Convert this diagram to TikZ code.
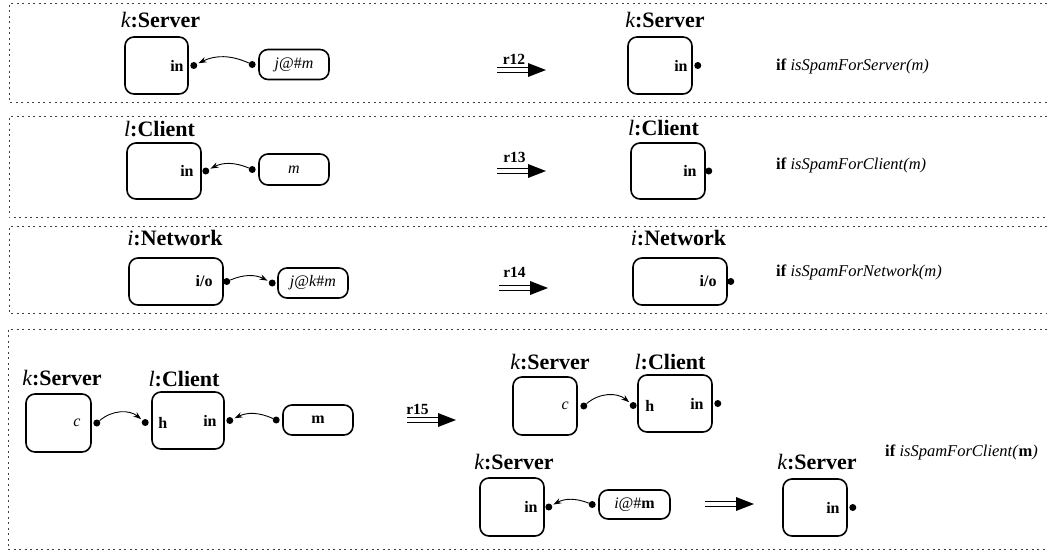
\documentclass[tikz,border=0pt]{standalone}
\usepackage{fontspec}
\setmainfont{Liberation Serif}
\usetikzlibrary{arrows.meta}
\tikzset{
  frame/.style={draw=black!75, line width=0.8pt, dash pattern=on 2pt off 3.5pt},
  comp/.style={draw, line width=1.6pt, rounded corners=9pt, inner sep=0pt},
  msg/.style={draw, line width=1.6pt, rounded corners=9pt, minimum width=70pt, minimum height=30pt, inner sep=0pt, font=\fontsize{16}{16}\selectfont},
  title/.style={font=\fontsize{22}{22}\selectfont\bfseries, inner sep=0pt},
  plabel/.style={font=\fontsize{16}{16}\selectfont\bfseries, inner sep=0pt},
  rlabel/.style={font=\fontsize{15.5}{15.5}\selectfont\bfseries, inner sep=0pt},
  cond/.style={font=\fontsize{16.5}{16.5}\selectfont, inner sep=0pt, anchor=west},
  port/.style={circle, fill=black, minimum size=7pt, inner sep=0pt},
  conn/.style={line width=0.9pt, -{Stealth[length=8pt,width=5.5pt]}, shorten >=1.5pt},
  implies/.pic={
    \draw[line width=1.6pt] (0,-2.6) -- (33,-2.6) (0,2.6) -- (33,2.6);
    \fill (31,-7) -- (49,0) -- (31,7) -- cycle;
  }
}
\newcommand{\ivar}[1]{{\mdseries\itshape #1}}
\begin{document}
\begin{tikzpicture}[x=1pt,y=-1pt]
\useasboundingbox (0,0) rectangle (1047,552);
% frames
\draw[frame] (1047,3) -| (9,102) -- (1047,102);
\draw[frame] (1047,116) -| (9,217) -- (1047,217);
\draw[frame] (1047,226) -| (9,313) -- (1047,313);
\draw[frame] (1047,329) -| (8,549) -- (1047,549);

% ---------- Row 1 (r12)
\node[title] (t1) at (160.5,20) {\ivar{k}:Server};
\node[comp, minimum width=63pt, minimum height=57pt] (s1) at (156.5,65.5) {};
\node[plabel, anchor=east] (s1in) at ([xshift=-5pt]s1.east) {in};
\node[port] (s1p) at ([xshift=5pt]s1.east) {};
\node[msg] (m1) at (294,64.5) {\textit{j}@\#\textit{m}\hspace{10pt}};
\node[port] (m1p) at ([xshift=-6pt]m1.west) {};
\draw[conn] (m1p) to[bend right=25] (s1p);
\node[rlabel] (r12) at (514,59) {r12};
\pic at (497,70) {implies};
\node[title] (t1b) at (665,20) {\ivar{k}:Server};
\node[comp, minimum width=64pt, minimum height=57pt] (s1b) at (660,65.5) {};
\node[plabel, anchor=east] (s1bin) at ([xshift=-5pt]s1b.east) {in};
\node[port] (s1bp) at ([xshift=5pt]s1b.east) {};
\node[cond] (c1) at (776,66) {\textbf{if} \textit{isSpamForServer(m)}};

% ---------- Row 2 (r13)
\node[title] (t2) at (159.5,129) {\ivar{l}:Client};
\node[comp, minimum width=74pt, minimum height=56pt] (s2) at (164,171) {};
\node[plabel, anchor=east] (s2in) at ([xshift=-8pt]s2.east) {in};
\node[port] (s2p) at ([xshift=4pt]s2.east) {};
\node[msg, minimum height=31pt] (m2) at (294,169.5) {\textit{m}\hspace{4pt}};
\node[port] (m2p) at ([xshift=-6pt]m2.west) {};
\draw[conn] (m2p) to[bend right=25] (s2p);
\node[rlabel] (r13) at (514.5,157) {r13};
\pic at (497,171) {implies};
\node[title] (t2b) at (663.5,128) {\ivar{l}:Client};
\node[comp, minimum width=74pt, minimum height=56pt] (s2b) at (668,171) {};
\node[plabel, anchor=east] (s2bin) at ([xshift=-9pt]s2b.east) {in};
\node[port] (s2bp) at ([xshift=3pt]s2b.east) {};
\node[cond] (c2) at (776,165) {\textbf{if} \textit{isSpamForClient(m)}};

% ---------- Row 3 (r14)
\node[title] (t3) at (175,238) {\ivar{i}:Network};
\node[comp, minimum width=94pt, minimum height=47pt] (s3) at (176,281.5) {};
\node[plabel, anchor=east] (s3io) at ([xshift=-11pt]s3.east) {i/o};
\node[port] (s3p) at ([xshift=3pt]s3.east) {};
\node[msg] (m3) at (313,283) {\textit{j}@\textit{k}\#\textit{m}\hspace{8pt}};
\node[port] (m3p) at ([xshift=-5pt]m3.west) {};
\draw[conn] (s3p) to[bend left=25] (m3p);
\node[rlabel] (r14) at (514.5,272) {r14};
\pic at (499,288) {implies};
\node[title] (t3b) at (678.5,238) {\ivar{i}:Network};
\node[comp, minimum width=94pt, minimum height=47pt] (s3b) at (680,281.5) {};
\node[plabel, anchor=east] (s3bio) at ([xshift=-11pt]s3b.east) {i/o};
\node[port] (s3bp) at ([xshift=3pt]s3b.east) {};
\node[cond] (c3) at (776,272) {\textbf{if} \textit{isSpamForNetwork(m)}};

% ---------- Row 4 (r15)
\node[title] (t4a) at (62,378) {\ivar{k}:Server};
\node[comp, minimum width=65pt, minimum height=58pt] (s4a) at (58.5,423) {};
\node[plabel, anchor=east, font=\fontsize{16}{16}\selectfont\itshape] (s4ac) at ([xshift=-11pt]s4a.east) {c};
\node[port] (s4ap) at ([xshift=5pt]s4a.east) {};
\node[title] (t4b) at (184,379) {\ivar{l}:Client};
\node[comp, minimum width=72pt, minimum height=57pt] (s4b) at (188,420.5) {};
\node[plabel, anchor=west] (s4bh) at ([xshift=7pt,yshift=-2pt]s4b.west) {h};
\node[port] (s4bhp) at ([xshift=-6pt,yshift=-2pt]s4b.west) {};
\node[plabel, anchor=east] (s4bin) at ([xshift=-8pt]s4b.east) {in};
\node[port] (s4binp) at ([xshift=5pt]s4b.east) {};
\node[msg] (m4) at (318,420) {\textbf{m}};
\node[port] (m4p) at ([xshift=-6pt]m4.west) {};
\draw[conn] (s4ap) to[bend left=40] (s4bhp);
\draw[conn] (m4p) to[bend right=25] (s4binp);
\node[rlabel] (r15) at (417.5,409) {r15};
\pic at (407,420) {implies};
% result: upper
\node[title] (t4c) at (550,362) {\ivar{k}:Server};
\node[comp, minimum width=64pt, minimum height=58pt] (s4c) at (545,406) {};
\node[plabel, anchor=east, font=\fontsize{16}{16}\selectfont\itshape] (s4cc) at ([xshift=-9pt]s4c.east) {c};
\node[port] (s4cp) at ([xshift=6pt]s4c.east) {};
\node[title] (t4d) at (670,362) {\ivar{l}:Client};
\node[comp, minimum width=74pt, minimum height=57pt] (s4d) at (675,403.5) {};
\node[plabel, anchor=west] (s4dh) at ([xshift=8pt,yshift=-2pt]s4d.west) {h};
\node[port] (s4dhp) at ([xshift=-4pt,yshift=-2pt]s4d.west) {};
\node[plabel, anchor=east] (s4din) at ([xshift=-9pt]s4d.east) {in};
\node[port] (s4dinp) at ([xshift=5pt]s4d.east) {};
\draw[conn] (s4cp) to[bend left=40] (s4dhp);
% result: lower
\node[title] (t4e) at (514,462) {\ivar{k}:Server};
\node[comp, minimum width=64pt, minimum height=58pt] (s4e) at (512,507) {};
\node[plabel, anchor=east] (s4ein) at ([xshift=-7pt]s4e.east) {in};
\node[port] (s4ep) at ([xshift=4pt]s4e.east) {};
\node[msg, minimum width=71pt, minimum height=29pt] (m4e) at (634.5,504.5) {\textit{i}@\#\textbf{m}};
\node[port] (m4ep) at ([xshift=-6pt]m4e.west) {};
\draw[conn] (m4ep) to[bend right=25] (s4ep);
\pic at (705,504) {implies};
\node[title] (t4f) at (817,462) {\ivar{k}:Server};
\node[comp, minimum width=64pt, minimum height=57pt] (s4f) at (815,507.5) {};
\node[plabel, anchor=east] (s4fin) at ([xshift=-8pt]s4f.east) {in};
\node[port] (s4fp) at ([xshift=5pt]s4f.east) {};
\node[cond] (c4) at (885,452) {\textbf{if} \textit{isSpamForClient(}\textbf{m}\textit{)}};
\end{tikzpicture}
\end{document}
